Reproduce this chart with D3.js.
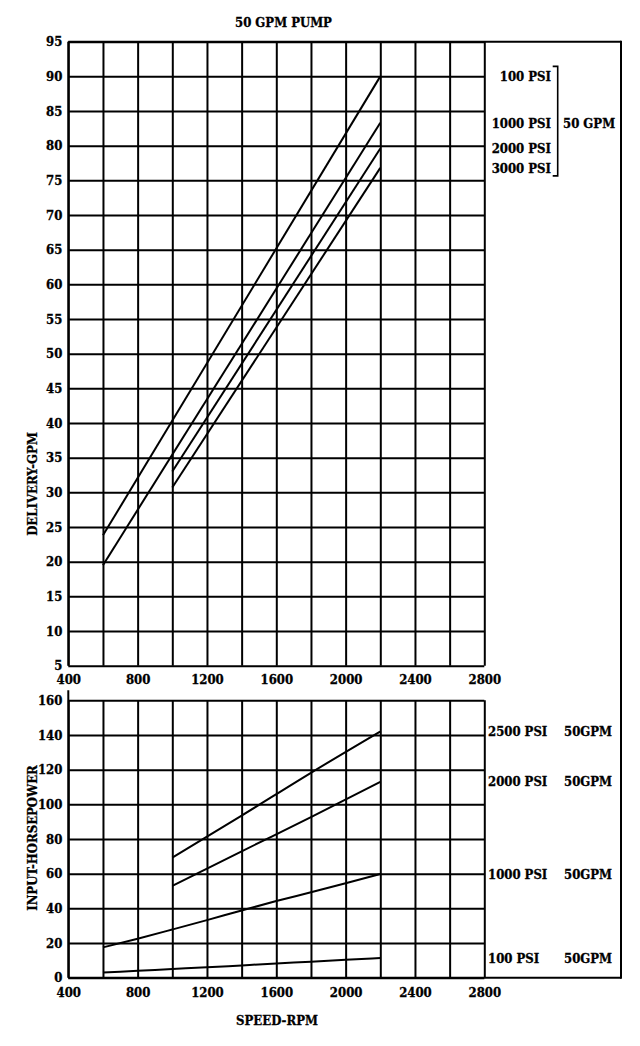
<!DOCTYPE html>
<html>
<head>
<meta charset="utf-8">
<script src="https://cdn.jsdelivr.net/npm/d3@7"></script>
<style>
  body { margin: 0; background: #fff; }
  svg text {
    font-family: 'DejaVu Serif Condensed', 'DejaVu Serif', serif;
    font-stretch: condensed;
    font-weight: bold;
    font-size: 13px;
    fill: #000;
    stroke: #000;
    stroke-width: 0.3px;
  }
</style>
</head>
<body>
<div id="chart"></div>
<script>
// tick values / labels
const rpmTicks = [400, 600, 800, 1000, 1200, 1400, 1600, 1800, 2000, 2200, 2400, 2600, 2800]
const rpmLabels = [400, 800, 1200, 1600, 2000, 2400, 2800]
const gpmTicks = [5, 10, 15, 20, 25, 30, 35, 40, 45, 50, 55, 60, 65, 70, 75, 80, 85, 90, 95]
const hpTicks = [0, 20, 40, 60, 80, 100, 120, 140, 160]

// delivery (GPM) - straight lines start -> end
const deliveryNames = ['100 PSI', '1000 PSI', '2000 PSI', '3000 PSI']
const deliveryStartRpm = [600, 600, 1000, 1000]
const deliveryEndRpm = [2200, 2200, 2200, 2200]
const deliveryStart = [23.8, 19.5, 33.0, 30.7]
const deliveryEnd = [90, 83.3, 79.6, 76.8]

// input horsepower
const hpNames = ['100 PSI', '1000 PSI', '2000 PSI', '2500 PSI']
const hpRpmLow = [600, 800, 1000, 1200, 1400, 1600, 1800, 2000, 2200]
const hp100 = [3.0, 4.0, 5.0, 6.0, 7.1, 8.2, 9.2, 10.3, 11.3]
const hp1000 = [17.5, 22.5, 27.8, 33.2, 38.8, 44.2, 49.3, 54.5, 59.8]
const hpRpmHigh = [1000, 1400, 1800, 2200]
const hp2000 = [52.9, 72.9, 92.6, 113]
const hp2500 = [69.2, 93.5, 118.2, 142]

const width = 640
const height = 1046
const left = 68.3
const right = 484.3
const frameRight = 621
const topY0 = 41.7
const topY1 = 665.7
const botY0 = 700.3
const botY1 = 977.7
const sw = 2

const svg = d3
  .select('#chart')
  .append('svg')
  .attr('width', width)
  .attr('height', height)

const x = d3.scaleLinear().domain([400, 2800]).range([left, right])
const yGpm = d3.scaleLinear().domain([5, 95]).range([topY1, topY0])
const yHp = d3.scaleLinear().domain([0, 160]).range([botY1, botY0])

const styleAxis = (g) => {
  g.select('.domain').remove()
  g.selectAll('.tick line').attr('stroke', '#000').attr('stroke-width', sw)
  g.selectAll('.tick text').attr('fill', '#000')
}
const rpmFormat = (d) => (rpmLabels.includes(d) ? d : '')

// ---- top chart: delivery ----
svg.append('g')
  .attr('transform', `translate(${left},0)`)
  .call(d3.axisLeft(yGpm).tickValues(gpmTicks).tickSize(-(right - left)).tickPadding(6))
  .call(styleAxis)

svg.append('g')
  .attr('transform', `translate(0,${topY1})`)
  .call(d3.axisBottom(x).tickValues(rpmTicks).tickFormat(rpmFormat)
    .tickSize(-(topY1 - topY0)).tickPadding(9))
  .call(styleAxis)

// ---- bottom chart: horsepower ----
svg.append('g')
  .attr('transform', `translate(${left},0)`)
  .call(d3.axisLeft(yHp).tickValues(hpTicks).tickSize(-(right - left)).tickPadding(6))
  .call(styleAxis)

svg.append('g')
  .attr('transform', `translate(0,${botY1})`)
  .call(d3.axisBottom(x).tickValues(rpmTicks).tickFormat(rpmFormat)
    .tickSize(-(botY1 - botY0)).tickPadding(10))
  .call(styleAxis)

// frame
const frame = svg.append('g').attr('stroke', '#000').attr('stroke-width', sw).attr('fill', 'none')
frame.append('line').attr('x1', left).attr('x2', frameRight).attr('y1', topY0).attr('y2', topY0)
frame.append('line').attr('x1', left).attr('x2', frameRight).attr('y1', botY1).attr('y2', botY1)
frame.append('line').attr('x1', frameRight).attr('x2', frameRight).attr('y1', topY0 - 1).attr('y2', botY1 + 1)
frame.append('line').attr('x1', left).attr('x2', left).attr('y1', topY0).attr('y2', topY1)
frame.append('line').attr('x1', left).attr('x2', left).attr('y1', botY0 - 10).attr('y2', botY1)

// series lines
const line = d3.line()
const series = svg.append('g').attr('stroke', '#000').attr('stroke-width', sw).attr('fill', 'none')

deliveryNames.forEach((name, i) => {
  series.append('path').attr('d', line([
    [x(deliveryStartRpm[i]), yGpm(deliveryStart[i])],
    [x(deliveryEndRpm[i]), yGpm(deliveryEnd[i])],
  ]))
})

const hpSeries = [
  [hpRpmLow, hp100],
  [hpRpmLow, hp1000],
  [hpRpmHigh, hp2000],
  [hpRpmHigh, hp2500],
]
hpSeries.forEach(([rpm, vals]) => {
  const curve = d3.line().x((d, j) => x(rpm[j])).y((d) => yHp(d)).curve(d3.curveMonotoneX)
  series.append('path').attr('d', curve(vals))
})

// right labels, top chart
deliveryNames.forEach((name, i) => {
  svg.append('text')
    .attr('x', 551)
    .attr('y', yGpm(deliveryEnd[i]))
    .attr('dy', '0.36em')
    .attr('text-anchor', 'end')
    .text(name)
})
const bTop = yGpm(deliveryEnd[0]) - 10
const bBot = yGpm(deliveryEnd[3]) + 8
const bX = 557.7
svg.append('path')
  .attr('d', `M${bX - 5},${bTop}H${bX}V${bBot}H${bX - 5}`)
  .attr('stroke', '#000').attr('stroke-width', 1.6).attr('fill', 'none')
svg.append('text')
  .attr('x', 563)
  .attr('y', yGpm(deliveryEnd[1]))
  .attr('dy', '0.36em')
  .text('50 GPM')

// right labels, bottom chart
const hpEnds = [hp100, hp1000, hp2000, hp2500].map((v) => v[v.length - 1])
hpNames.forEach((name, i) => {
  const yy = yHp(hpEnds[i])
  svg.append('text').attr('x', 488).attr('y', yy).attr('dy', '0.36em').text(name)
  svg.append('text').attr('x', 564).attr('y', yy).attr('dy', '0.36em').text('50GPM')
})

// titles
svg.append('text').attr('x', 235).attr('y', 26.5).text('50 GPM PUMP')
svg.append('text')
  .attr('transform', 'translate(36.5,484) rotate(-90)')
  .attr('text-anchor', 'middle')
  .text('DELIVERY-GPM')
svg.append('text')
  .attr('transform', 'translate(36.5,838) rotate(-90)')
  .attr('text-anchor', 'middle')
  .text('INPUT-HORSEPOWER')
svg.append('text')
  .attr('x', 277)
  .attr('y', 1025)
  .attr('text-anchor', 'middle')
  .text('SPEED-RPM')
</script>
</body>
</html>
